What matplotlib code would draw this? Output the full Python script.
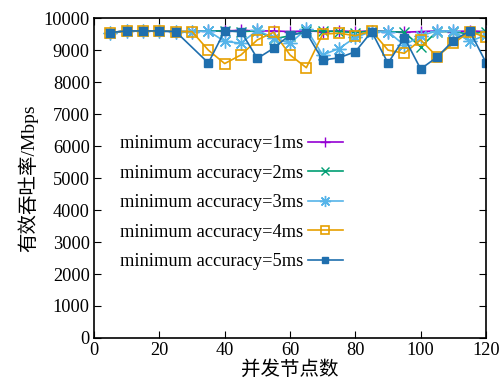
import matplotlib.pyplot as plt

plt.rcParams['font.family'] = ['Liberation Serif', 'Noto Sans CJK SC']

nodes = [5, 10, 15, 20, 25, 30, 35, 40, 45, 50, 55, 60, 65, 70, 75, 80, 85, 90, 95, 100, 105, 110, 115, 120]
nodes_5ms = [5, 10, 15, 20, 25, 35, 40, 45, 50, 55, 60, 65, 70, 75, 80, 85, 90, 95, 100, 105, 110, 115, 120]

acc_1ms = [9550, 9600, 9600, 9600, 9580, 9580, 9600, 9600, 9620, 9600, 9600, 9580,
           9600, 9580, 9600, 9580, 9600, 9580, 9560, 9580, 9600, 9580, 9600, 9580]
acc_2ms = [9550, 9600, 9600, 9600, 9580, 9580, 9600, 9600, 9580, 9600, 9350, 9450,
           9600, 9600, 9580, 9550, 9600, 9580, 9560, 9100, 9580, 9580, 9500, 9580]
acc_3ms = [9550, 9600, 9600, 9600, 9580, 9580, 9600, 9270, 9220, 9620, 9380, 9220,
           9650, 8850, 9050, 9400, 9580, 9580, 9150, 9450, 9600, 9600, 9270, 9470]
acc_4ms = [9550, 9600, 9600, 9600, 9580, 9580, 9000, 8580, 8850, 9320, 9560, 8850,
           8450, 9500, 9530, 9450, 9600, 9000, 8900, 9320, 8800, 9210, 9580, 9400]
acc_5ms = [9550, 9600, 9600, 9600, 9580, 8600, 9600, 9580, 8740, 9060, 9480,
           9550, 8690, 8760, 8950, 9580, 8590, 9390, 8410, 8780, 9300, 9600, 8610]

labels = ['minimum accuracy=1ms', 'minimum accuracy=2ms', 'minimum accuracy=3ms',
          'minimum accuracy=4ms', 'minimum accuracy=5ms']


def main():
    fig = plt.figure(figsize=(5, 3.86), dpi=100)
    ax = fig.add_axes([0.188, 0.1244, 0.784, 0.8286])

    ax.plot(nodes, acc_1ms, color='#9400D3', marker='+', markersize=9, linewidth=1.2, label=labels[0])
    ax.plot(nodes, acc_2ms, color='#009E73', marker='x', markersize=7, linewidth=1.2, label=labels[1])
    ax.plot(nodes, acc_3ms, color='#56B4E9', marker=(8, 2, 0), markersize=10, linewidth=1.2, label=labels[2])
    ax.plot(nodes, acc_4ms, color='#E69F00', marker='s', markersize=6.5, markerfacecolor='none',
            markeredgewidth=1.2, linewidth=1.2, label=labels[3])
    ax.plot(nodes_5ms, acc_5ms, color='#1F6FAE', marker='s', markersize=6, linewidth=1.2, label=labels[4])

    ax.set_xlim(0, 120)
    ax.set_ylim(0, 10000)
    ax.set_xticks(range(0, 121, 20))
    ax.set_yticks(range(0, 10001, 1000))
    ax.tick_params(direction='in', top=True, right=True, length=5, labelsize=13.2, pad=3)
    for s in ax.spines.values():
        s.set_linewidth(1.2)

    ax.set_xlabel('并发节点数', fontsize=14, labelpad=1)
    ax.set_ylabel('有效吞吐率/Mbps', fontsize=14, labelpad=4)

    ax.legend(loc='upper left', bbox_to_anchor=(0.066, 0.634), frameon=False, markerfirst=False,
              fontsize=13.2, handlelength=1.9, labelspacing=0.68, handletextpad=0.25,
              borderpad=0, borderaxespad=0, markerscale=0.8)

    fig.savefig('out.png', dpi=100)


if __name__ == '__main__':
    main()
